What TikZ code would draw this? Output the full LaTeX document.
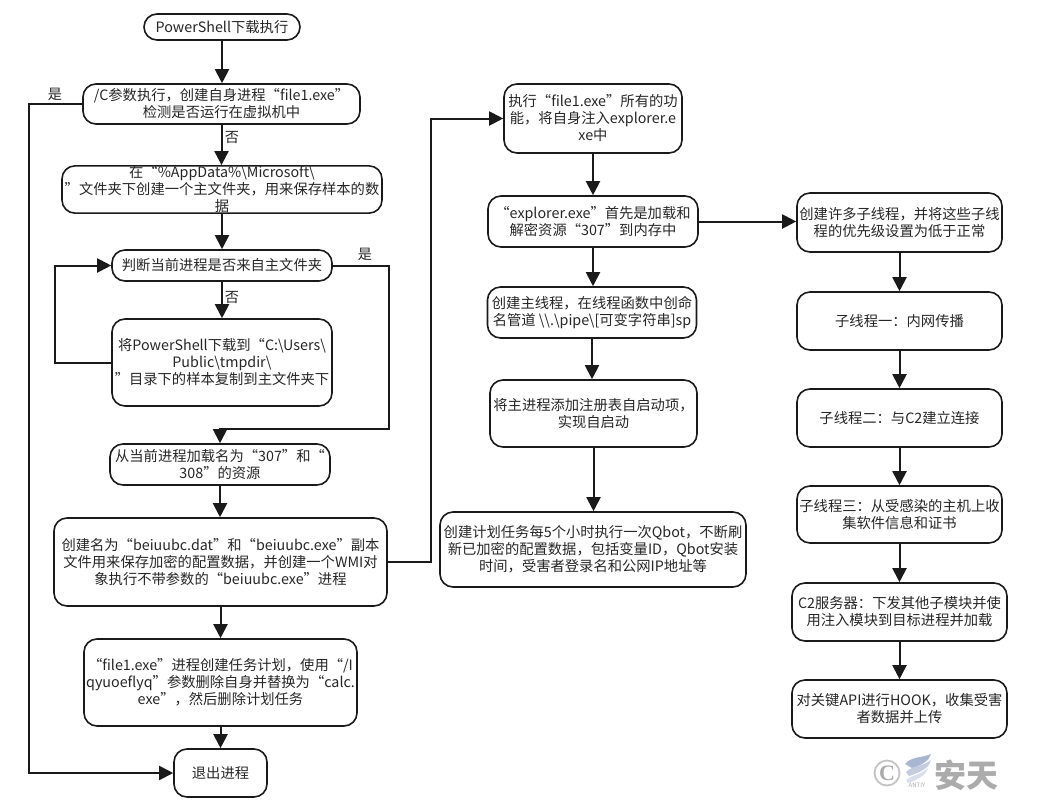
\documentclass[tikz,border=0pt]{standalone}
\usepackage{fontspec}
\setmainfont{Noto Sans CJK SC}
\newfontfamily\wmserif{Liberation Serif}
\usetikzlibrary{arrows.meta,calc}
\lineskiplimit=-100pt
\definecolor{ink}{HTML}{1A1A1A}
\definecolor{txt}{HTML}{262626}
\definecolor{wm}{HTML}{ABABAB}
\definecolor{wmb}{HTML}{A9B6D2}
\tikzset{
  flowbox/.style={draw=ink,line width=1.6pt,rounded corners=13pt,inner sep=0pt,align=center,
    text=txt,font=\fontsize{14.3}{17}\selectfont},
  conn/.style={draw=ink,line width=2pt},
  arr/.style={conn,-{Triangle[length=14pt,width=14pt]}},
  lab/.style={inner sep=0pt,text=txt,font=\fontsize{14.2}{17}\selectfont}
}
\begin{document}
\begin{tikzpicture}[x=1pt,y=-1pt]
\useasboundingbox (0,0) rectangle (1039,809);
% left column
\node[flowbox,minimum width=156pt,minimum height=26pt] (start) at (222,27) {PowerShell下载执行};
\node[flowbox,minimum width=277pt,minimum height=40pt] (n1) at (221.5,104) {/C参数执行，创建自身进程“file1.exe”\\检测是否运行在虚拟机中};
\node[flowbox,minimum width=320pt,minimum height=45pt] (n2) at (222,189.5) {在“\%AppData\%\textbackslash Microsoft\textbackslash\\”文件夹下创建一个主文件夹，用来保存样本的数\\据};
\node[flowbox,minimum width=220pt,minimum height=31pt] (n3) at (222,265.5) {判断当前进程是否来自主文件夹};
\node[flowbox,minimum width=220pt,minimum height=87pt] (n4) at (222,362.5) {将PowerShell下载到“C:\textbackslash Users\textbackslash\\Public\textbackslash tmpdir\textbackslash\\”目录下的样本复制到主文件夹下};
\node[flowbox,minimum width=220pt,minimum height=41pt] (n5) at (220,464.5) {从当前进程加载名为“307”和“\\308”的资源};
\node[flowbox,minimum width=333pt,minimum height=88pt] (n6) at (220.5,562) {创建名为“beiuubc.dat”和“beiuubc.exe”副本\\文件用来保存加密的配置数据，并创建一个WMI对\\象执行不带参数的“beiuubc.exe”进程};
\node[flowbox,minimum width=273pt,minimum height=87pt] (n7) at (220.5,682.5) {“file1.exe”进程创建任务计划，使用“/I\\qyuoeflyq”参数删除自身并替换为“calc.\\exe”，然后删除计划任务};
\node[flowbox,minimum width=93pt,minimum height=48pt] (n8) at (220.5,773) {退出进程};
% middle column
\node[flowbox,minimum width=178pt,minimum height=69pt] (m1) at (593,118.5) {执行“file1.exe”所有的功\\能，将自身注入explorer.e\\xe中};
\node[flowbox,minimum width=210pt,minimum height=51pt] (m2) at (593,221.5) {“explorer.exe”首先是加载和\\解密资源“307”到内存中};
\node[flowbox,minimum width=209pt,minimum height=51pt] (m3) at (592,312.5) {创建主线程，在线程函数中创命\\名管道 \textbackslash\textbackslash.\textbackslash pipe\textbackslash{}[可变字符串]sp};
\node[flowbox,minimum width=207pt,minimum height=67pt] (m4) at (593.5,413.5) {将主进程添加注册表自启动项，\\实现自启动};
\node[flowbox,minimum width=306pt,minimum height=75pt] (m5) at (593,549.5) {创建计划任务每5个小时执行一次Qbot，不断刷\\新已加密的配置数据，包括变量ID，Qbot安装\\时间，受害者登录名和公网IP地址等};
% right column
\node[flowbox,minimum width=205pt,minimum height=59pt] (r1) at (899.5,222.5) {创建许多子线程，并将这些子线\\程的优先级设置为低于正常};
\node[flowbox,minimum width=205pt,minimum height=58pt] (r2) at (899.5,321) {子线程一：内网传播};
\node[flowbox,minimum width=205pt,minimum height=58pt] (r3) at (899.5,418) {子线程二：与C2建立连接};
\node[flowbox,minimum width=205pt,minimum height=57pt] (r4) at (899.5,514.5) {子线程三：从受感染的主机上收\\集软件信息和证书};
\node[flowbox,minimum width=215pt,minimum height=58pt] (r5) at (899.5,612) {C2服务器：下发其他子模块并使\\用注入模块到目标进程并加载};
\node[flowbox,minimum width=215pt,minimum height=58pt] (r6) at (899.5,709) {对关键API进行HOOK，收集受害\\者数据并上传};
% routing points
\coordinate (railL) at (29,0);
\coordinate (loopL) at (55,0);
\coordinate (railR) at (389,429);
\coordinate (railM) at (431,0);
% connectors
\draw[arr] (start.south) -- (start.south |- n1.north);
\draw[arr] (n1.south) -- (n1.south |- n2.north);
\draw[arr] (n2.south) -- (n2.south |- n3.north);
\draw[arr] (n3.south) -- (n3.south |- n4.north);
\draw[arr] (n5.south) -- (n5.south |- n6.north);
\draw[arr] (n6.south) -- (n6.south |- n7.north);
\draw[arr] (n7.south) -- (n7.south |- n8.north);
\draw[arr] (n1.west) -- (n1.west -| railL) |- (n8.west);
\draw[arr] (n4.west) -- (n4.west -| loopL) |- (n3.west);
\draw[arr] (n3.east) -- (n3.east -| railR) -- (railR) -- (railR -| n5.north) -- (n5.north);
\draw[arr] (n6.east) -- (n6.east -| railM) |- (m1.west);
\draw[arr] (m1.south) -- (m1.south |- m2.north);
\draw[arr] (m2.south) -- (m2.south |- m3.north);
\draw[arr] (m3.south) -- (m3.south |- m4.north);
\draw[arr] (m4.south) -- (m4.south |- m5.north);
\draw[arr] (m2.east) -- (r1.west |- m2.east);
\draw[arr] (r1.south) -- (r2.north);
\draw[arr] (r2.south) -- (r3.north);
\draw[arr] (r3.south) -- (r4.north);
\draw[arr] (r4.south) -- (r5.north);
\draw[arr] (r5.south) -- (r6.north);
% labels
\node[lab] (l1) at (55,94) {是};
\node[lab] (l2) at (232,138) {否};
\node[lab] (l3) at (365,254) {是};
\node[lab] (l4) at (232,298) {否};
% watermark
\node[circle,draw=wm!70,line width=1.8pt,minimum size=25pt,inner sep=0pt,text=wm,font=\fontsize{22}{22}\wmserif\bfseries] (wc) at (887,773) {C};
\fill[wmb] (905,764) .. controls (912,756) and (922,758) .. (931,754) .. controls (929,761) and (922,765) .. (912,768) -- cycle;
\fill[wmb!70] (906,772) .. controls (913,765) and (922,767) .. (931,760) .. controls (929,769) and (918,773) .. (909,776) -- cycle;
\fill[wmb!45] (906,780) .. controls (912,775) and (920,775) .. (928,768) .. controls (926,776) and (916,780) .. (908,783) -- cycle;
\node[inner sep=0pt,text=wm,font=\fontsize{6}{6}\selectfont] (wa) at (917,785.5) {ANTIY};
\node[inner sep=0pt,text=wm,font=\fontsize{32}{32}\bfseries] (wt) at (966,775) {安天};
\end{tikzpicture}
\end{document}
